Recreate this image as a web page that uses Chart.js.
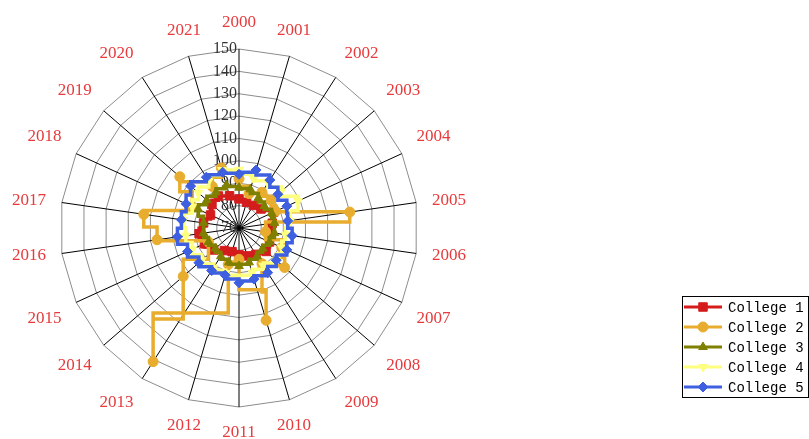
<!DOCTYPE html>
<html>
<head>
<meta charset="utf-8">
<style>
  html, body { margin: 0; padding: 0; background: #fff; overflow: hidden; }
  #wrap { position: relative; width: 809px; height: 439px; }
</style>
<script src="https://cdn.jsdelivr.net/npm/chart.js@4.4.1/dist/chart.umd.min.js"></script>
</head>
<body>
<div id="wrap"><canvas id="chart"></canvas></div>
<script>
// categories and series
const years = ['2000', '2001', '2002', '2003', '2004', '2005', '2006', '2007', '2008', '2009', '2010',
               '2011', '2012', '2013', '2014', '2015', '2016', '2017', '2018', '2019', '2020', '2021'];

const college1 = [83, 82, 82, 83, 87, 85, 84, 85, 86, 84, 83, 82, 81, 82, 85, 87, 88, 86, 84, 86, 87, 85];
const college2 = [92, 86, 89, 89, 88, 120, 82, 91, 97, 89, 113, 84, 87, 141, 103, 85, 107, 113, 93, 105, 92, 98];
const college3 = [88, 88, 86, 85, 86, 86, 86, 85, 84, 85, 86, 87, 86, 85, 84, 85, 86, 86, 90, 89, 89, 90];
const college4 = [96, 93, 94, 95, 99, 93, 91, 91, 92, 90, 91, 92, 91, 91, 92, 93, 94, 95, 93, 94, 95, 97];
const college5 = [94, 97, 95.5, 93, 93.5, 92, 94, 93.5, 92, 93.7, 93.8, 94.5, 92, 92.6, 93.7, 95.3, 97.8, 96, 96, 98.6, 97, 96];

const scaleMin = 70;
const scaleMax = 150;
const scaleStep = 10;

const COLORS = {
    red: '#d41c1c',
    orange: '#e8ad2e',
    olive: '#7f7f00',
    yellow: '#ffff7f',
    blue: '#3e5fe0',
    label: '#e63a3c'
};

function makeDataset(label, data, color, pointStyle, rotation, order) {
    return {
        label: label,
        data: data,
        borderColor: color,
        backgroundColor: color,
        pointBackgroundColor: color,
        pointBorderColor: color,
        pointBorderWidth: 1,
        pointStyle: pointStyle,
        pointRotation: rotation,
        pointRadius: pointStyle === 'rect' ? 6 : 5,
        showLine: false,
        fill: false,
        stepWidth: 3.5,
        order: order
    };
}

// radar lines stepped with a vertical-horizontal-vertical pattern between points
const stepLines = {
    id: 'stepLines',
    beforeDatasetDraw(chart, args) {
        const pts = args.meta.data;
        const ds = chart.data.datasets[args.index];
        if (!pts.length) return;
        const ctx = chart.ctx;
        ctx.save();
        ctx.strokeStyle = ds.borderColor;
        ctx.lineWidth = ds.stepWidth;
        ctx.lineJoin = 'miter';
        ctx.beginPath();
        ctx.moveTo(pts[0].x, pts[0].y);
        for (let i = 0; i < pts.length; i++) {
            const p = pts[i];
            const t = pts[(i + 1) % pts.length];
            const midY = (p.y + t.y) / 2;
            ctx.lineTo(p.x, midY);
            ctx.lineTo(t.x, midY);
            ctx.lineTo(t.x, t.y);
        }
        ctx.closePath();
        ctx.stroke();
        ctx.restore();
    }
};

// tick labels left of the vertical axis, year labels round the web
const axisText = {
    id: 'axisText',
    beforeDatasetsDraw(chart) {
        const scale = chart.scales.r;
        const ctx = chart.ctx;
        ctx.save();
        ctx.font = '16px "Liberation Serif", "DejaVu Serif", serif';
        ctx.fillStyle = '#333';
        ctx.textAlign = 'right';
        ctx.textBaseline = 'middle';
        scale.ticks.forEach(tick => {
            const r = scale.getDistanceFromCenterForValue(tick.value);
            ctx.fillText(String(tick.value), scale.xCenter - 2, scale.yCenter - r);
        });

        ctx.font = '17px "Liberation Serif", "DejaVu Serif", serif';
        ctx.fillStyle = COLORS.label;
        years.forEach((year, i) => {
            const a = scale.getIndexAngle(i);
            const s = Math.sin(a);
            const c = Math.cos(a);
            const pos = scale.getPointPosition(i, scale.drawingArea + 16);
            let x = pos.x;
            let y = pos.y;
            if (Math.abs(s) < 0.3) ctx.textAlign = 'center';
            else ctx.textAlign = s > 0 ? 'left' : 'right';
            if (Math.abs(c) >= 0.3) y += c > 0 ? -10 : 10;
            ctx.textBaseline = 'middle';
            ctx.fillText(year, x, y);
        });
        ctx.restore();
    },
    afterDraw(chart) {
        // boxed legend, bottom right
        const ctx = chart.ctx;
        const left = 682.5, top = 296.5, width = 126, height = 101;
        ctx.save();
        ctx.fillStyle = '#fff';
        ctx.fillRect(left, top, width, height);
        ctx.strokeStyle = '#000';
        ctx.lineWidth = 1;
        ctx.strokeRect(left, top, width, height);
        ctx.font = '14px "Liberation Mono", "DejaVu Sans Mono", monospace';
        ctx.textAlign = 'left';
        ctx.textBaseline = 'middle';
        chart.data.datasets.forEach((ds, i) => {
            const y = 307 + i * 20;
            ctx.strokeStyle = ds.borderColor;
            ctx.lineWidth = 3;
            ctx.beginPath();
            ctx.moveTo(684, y);
            ctx.lineTo(722, y);
            ctx.stroke();
            ctx.fillStyle = ds.borderColor;
            ctx.strokeStyle = ds.borderColor;
            ctx.lineWidth = 1;
            Chart.helpers.drawPoint(ctx, {
                pointStyle: ds.pointStyle,
                rotation: ds.pointRotation,
                radius: ds.pointRadius,
                borderWidth: 1
            }, 703, y);
            ctx.fillStyle = '#000';
            ctx.fillText(ds.label, 728, y + 1);
        });
        ctx.restore();
    }
};

new Chart(document.getElementById('chart'), {
    type: 'radar',
    data: {
        labels: years,
        datasets: [
            makeDataset('College 1', college1, COLORS.red, 'rect', 0, 5),
            makeDataset('College 2', college2, COLORS.orange, 'circle', 0, 4),
            makeDataset('College 3', college3, COLORS.olive, 'triangle', 0, 3),
            makeDataset('College 4', college4, COLORS.yellow, 'triangle', 180, 2),
            makeDataset('College 5', college5, COLORS.blue, 'rectRot', 0, 1)
        ]
    },
    options: {
        responsive: true,
        maintainAspectRatio: false,
        animation: false,
        devicePixelRatio: 1,
        layout: { padding: { top: 49, bottom: 32, left: 0, right: 331 } },
        plugins: {
            legend: { display: false },
            tooltip: { enabled: false }
        },
        scales: {
            r: {
                min: scaleMin,
                max: scaleMax,
                beginAtZero: false,
                ticks: { display: false, stepSize: scaleStep },
                grid: { color: '#8c8c8c', lineWidth: 1 },
                angleLines: { color: '#000', lineWidth: 1 },
                pointLabels: { display: false }
            }
        }
    },
    plugins: [stepLines, axisText]
});
</script>
</body>
</html>
